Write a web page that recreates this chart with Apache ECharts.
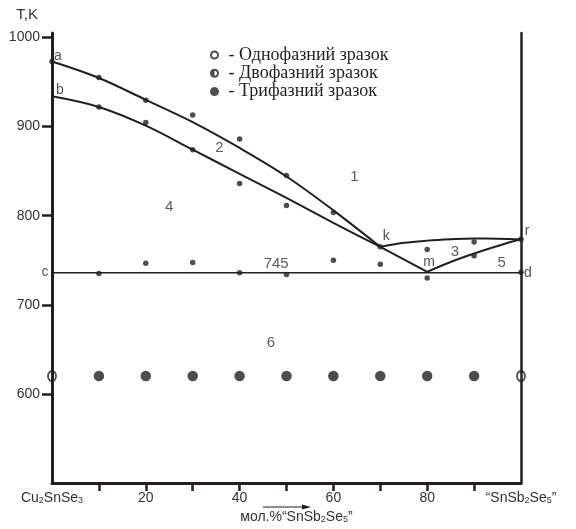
<!DOCTYPE html>
<html>
<head>
<meta charset="utf-8">
<script src="https://cdn.jsdelivr.net/npm/echarts@6/dist/echarts.min.js"></script>
<style>html,body{margin:0;padding:0;background:#fff}#c{width:576px;height:529px}</style>
</head>
<body>
<div id="c"></div>
<script>
// ---- data: composition (mol.% "SnSb2Se5") and temperature T, K ----
const upperCurveX = [0, 10, 20, 30, 40, 50, 60, 70];
const upperCurveT = [973, 954.5, 930, 905, 876, 844, 806, 765];
const lowerCurveX = [0, 10, 20, 30, 40, 50, 60, 70];
const lowerCurveT = [934, 922, 901, 874, 847, 820, 792, 765];
const krCurveX = [70, 75, 80, 85, 90, 95, 100];
const krCurveT = [765, 769.5, 772, 773.5, 774.3, 774.2, 773.5];
const kmLineX = [70, 80];
const kmLineT = [765, 737];
const mrCurveX = [80, 85, 90, 95, 100];
const mrCurveT = [737, 748, 757.5, 766, 773.5];
const eutecticX = [0, 100];
const eutecticT = [736, 736];

// thermal-analysis points
const dtaX = [0, 10, 20, 30, 40, 50, 60, 70, 10, 20, 30, 40, 50, 10, 20, 30, 40, 50, 60, 70, 80, 100, 80, 90, 90, 100];
const dtaT = [973, 955, 929.5, 913, 886, 845, 803.5, 765, 922, 904.5, 874, 836, 811.5, 735, 746.5, 747.5, 736, 734, 750, 745.5, 730, 736.5, 762, 770.5, 755, 773.5];

// annealed samples (phase analysis)
const singlePhaseX = [0, 100];
const singlePhaseT = [620, 620];
const twoPhaseX = [];
const twoPhaseT = [];
const threePhaseX = [10, 20, 30, 40, 50, 60, 70, 80, 90];
const threePhaseT = [620, 620, 620, 620, 620, 620, 620, 620, 620];

// point letters
const pointNames = ['a', 'b', 'c', 'd', 'k', 'm', 'r'];
const pointX = [0, 0, 0, 100, 70, 80, 100];
const pointT = [973, 934, 736, 736, 765, 737, 773.5];

// phase-field numbers
const regionNames = ['1', '2', '3', '4', '5', '6', '745'];
const regionX = [64.5, 35.7, 85.9, 25, 95.9, 46.7, 47.8];
const regionT = [844, 876.4, 759.3, 809.8, 747.4, 657.3, 746.2];

// axes
const yTickValues = [600, 700, 800, 900, 1000];
const xTickValues = [10, 20, 30, 40, 50, 60, 70, 80, 90];
const xLabelValues = [0, 20, 40, 60, 80, 100];
const legendNames = ['Однофазний зразок', 'Двофазний зразок', 'Трифазний зразок'];

// ---- styles ----
const INK = '#231f20';
const SANS = 'Liberation Sans';
const pointLabelOffsets = [[6, -5], [8, -6], [-7, -1], [7, 0], [6, -11], [2, -10], [6, -8]];

const pairs = (xs, ys) => xs.map((x, i) => [x, ys[i]]);
function curve(xs, ys, smooth, width) {
  return {
    type: 'line', data: pairs(xs, ys), smooth: smooth, symbol: 'none', clip: false, silent: true,
    lineStyle: { color: INK, width: width }, z: 3
  };
}

const openIcon = 'path://M5,0A5,5 0 1 1 5,10A5,5 0 1 1 5,0Z M5,2.2A2.8,2.8 0 1 0 5,7.8A2.8,2.8 0 1 0 5,2.2Z';
const halfIcon = 'path://M5,0A5,5 0 0 0 5,10Z M5,0A5,5 0 0 1 5,10L5,7.8A2.8,2.8 0 0 0 5,2.2Z';

const chart = echarts.init(document.getElementById('c'));
chart.setOption({
  backgroundColor: '#fff',
  animation: false,
  grid: { left: 52, right: 55, top: 33, bottom: 46 },
  legend: {
    orient: 'vertical', left: 210, top: 46, padding: 0, itemWidth: 9, itemHeight: 9, itemGap: 0.3,
    selectedMode: false,
    formatter: ' - {name}',
    textStyle: { fontFamily: 'Liberation Serif', fontSize: 18, color: INK, lineHeight: 18 },
    data: [
      { name: legendNames[0], icon: openIcon, itemStyle: { color: INK, borderWidth: 0 } },
      { name: legendNames[1], icon: halfIcon, itemStyle: { color: INK, borderWidth: 0 } },
      { name: legendNames[2], icon: 'circle', itemStyle: { color: INK, borderWidth: 0 } }
    ]
  },
  xAxis: {
    type: 'value', min: 0, max: 100,
    splitLine: { show: false },
    axisLine: { show: true, lineStyle: { color: INK, width: 3 } },
    axisTick: { show: true, customValues: xTickValues, length: 8, lineStyle: { color: INK, width: 2.5 } },
    axisLabel: {
      customValues: xLabelValues, margin: 8, color: '#333', fontFamily: SANS, fontSize: 14,
      formatter: function (v) {
        if (v === 0) return '{l|Cu}{s|2}{l|SnSe}{s|3}';
        if (v === 100) return '{r|“SnSb}{s|2}{r|Se}{s|5}{r|”}';
        return String(v);
      },
      rich: {
        l: { fontFamily: SANS, fontSize: 14, color: '#333' },
        r: { fontFamily: SANS, fontSize: 14, color: '#333' },
        s: { fontFamily: SANS, fontSize: 9, color: '#333', verticalAlign: 'bottom', padding: [4, 0, 0, 0] }
      }
    },
    name: '{t|мол.%“SnSb}{s|2}{t|Se}{s|5}{t|”}',
    nameLocation: 'middle', nameGap: 26,
    nameTextStyle: {
      padding: [0, 0, 0, 20],
      rich: {
        t: { fontFamily: SANS, fontSize: 14, color: '#333' },
        s: { fontFamily: SANS, fontSize: 9, color: '#333', verticalAlign: 'bottom', padding: [4, 0, 0, 0] }
      }
    }
  },
  yAxis: [{
    type: 'value', min: 500, max: 1005,
    splitLine: { show: false },
    axisLine: { show: true, lineStyle: { color: INK, width: 3 } },
    axisTick: { show: true, customValues: yTickValues, length: 10, lineStyle: { color: INK, width: 2.5 } },
    axisLabel: {
      customValues: yTickValues, margin: 12, color: '#333', fontFamily: SANS, fontSize: 14,
      formatter: function (v) { return String(v); }
    },
    name: 'T,K', nameLocation: 'end', nameGap: 11,
    nameTextStyle: { fontFamily: SANS, fontSize: 15, color: '#333', align: 'right', verticalAlign: 'bottom', padding: [0, 14, 0, 0] }
  }, {
    type: 'value', min: 500, max: 1005, position: 'right',
    splitLine: { show: false },
    axisLine: { show: true, lineStyle: { color: INK, width: 2.5 } },
    axisTick: { show: false }, axisLabel: { show: false }
  }],
  graphic: [{
    type: 'group', silent: true,
    children: [
      { type: 'line', shape: { x1: 263, y1: 507, x2: 303, y2: 507 }, style: { stroke: INK, lineWidth: 1.2 } },
      { type: 'polygon', shape: { points: [[302, 504.5], [311, 507], [302, 509.5]] }, style: { fill: INK } }
    ]
  }],
  series: [
    curve(upperCurveX, upperCurveT, 0.35, 2),
    curve(lowerCurveX, lowerCurveT, 0.35, 2),
    curve(krCurveX, krCurveT, 0.4, 2),
    curve(kmLineX, kmLineT, false, 2),
    curve(mrCurveX, mrCurveT, 0.4, 2),
    curve(eutecticX, eutecticT, false, 1.5),
    {
      type: 'scatter', data: pairs(dtaX, dtaT), symbol: 'circle', symbolSize: 5.5, clip: false, silent: true,
      itemStyle: { color: INK }, z: 4
    },
    {
      name: legendNames[0], type: 'scatter', data: pairs(singlePhaseX, singlePhaseT), symbol: 'circle',
      symbolSize: [8, 10], clip: false, silent: true,
      itemStyle: { color: 'rgba(0,0,0,0)', borderColor: INK, borderWidth: 2 }, z: 4
    },
    {
      name: legendNames[1], type: 'scatter', data: pairs(twoPhaseX, twoPhaseT), symbol: halfIcon,
      symbolSize: 10, clip: false, silent: true, itemStyle: { color: INK }, z: 4
    },
    {
      name: legendNames[2], type: 'scatter', data: pairs(threePhaseX, threePhaseT), symbol: 'circle',
      symbolSize: 10.5, clip: false, silent: true, itemStyle: { color: INK }, z: 4
    },
    {
      type: 'scatter', clip: false, silent: true, symbolSize: 1, itemStyle: { color: 'rgba(0,0,0,0)' }, z: 5,
      data: pointNames.map((n, i) => ({ name: n, value: [pointX[i], pointT[i]], label: { offset: pointLabelOffsets[i] } })),
      label: { show: true, position: 'inside', formatter: '{b}', fontFamily: SANS, fontSize: 14, color: INK }
    },
    {
      type: 'scatter', clip: false, silent: true, symbolSize: 1, itemStyle: { color: 'rgba(0,0,0,0)' }, z: 5,
      data: regionNames.map((n, i) => ({ name: n, value: [regionX[i], regionT[i]] })),
      label: { show: true, position: 'inside', formatter: '{b}', fontFamily: SANS, fontSize: 15, color: '#333' }
    }
  ]
});
</script>
</body>
</html>
